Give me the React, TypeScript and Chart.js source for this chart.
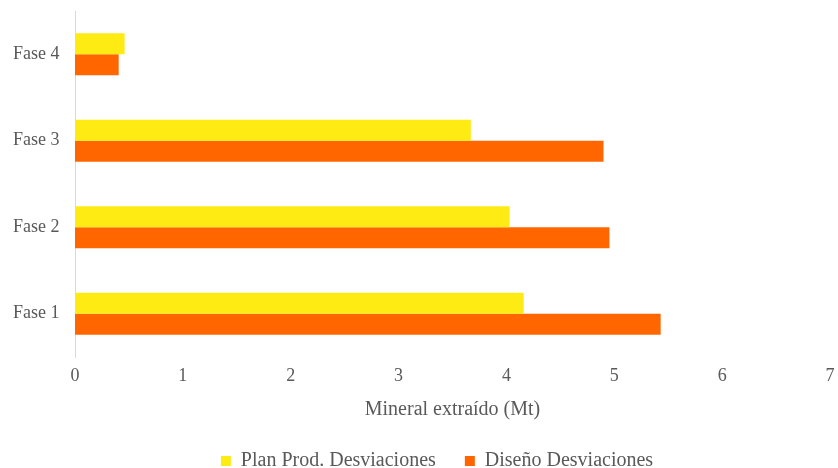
import React, { useEffect, useRef } from "react";
import { Chart, registerables } from "chart.js";

Chart.register(...registerables);

const categories = ["Fase 4", "Fase 3", "Fase 2", "Fase 1"];
const planProdValues = [0.46, 3.67, 4.03, 4.16];
const disenoValues = [0.405, 4.9, 4.955, 5.43];
const xTickValues = [0, 1, 2, 3, 4, 5, 6, 7];
const seriesNames = ["Plan Prod. Desviaciones", "Diseño Desviaciones"];
const xTitle = "Mineral extraído (Mt)";

const FONT = "'Liberation Serif', 'Times New Roman', serif";
const TEXT = "#595959";

export default function App() {
  const ref = useRef<HTMLCanvasElement | null>(null);

  useEffect(() => {
    if (!ref.current) return;
    const chart = new Chart(ref.current, {
      type: "bar",
      data: {
        labels: categories,
        datasets: [
          {
            label: seriesNames[0],
            data: planProdValues,
            backgroundColor: "#FFEB14",
            borderWidth: 0,
            categoryPercentage: 0.486,
            barPercentage: 1,
          },
          {
            label: seriesNames[1],
            data: disenoValues,
            backgroundColor: "#FF6600",
            borderWidth: 0,
            categoryPercentage: 0.486,
            barPercentage: 1,
          },
        ],
      },
      options: {
        indexAxis: "y",
        responsive: false,
        animation: false,
        layout: { padding: { top: 11, left: 44, right: 8, bottom: -13 } },
        scales: {
          x: {
            min: 0,
            max: 7,
            afterBuildTicks: (scale: any) => {
              scale.ticks = xTickValues.map((v) => ({ value: v }));
            },
            grid: { display: false, drawTicks: false },
            border: { display: false },
            ticks: {
              color: TEXT,
              font: { family: FONT, size: 18 },
              padding: 8,
            },
            title: {
              display: true,
              text: xTitle,
              color: TEXT,
              font: { family: FONT, size: 20 },
              padding: { top: 0, bottom: 0 },
            },
            afterFit: (scale: any) => {
              scale.height = 65;
              scale.paddingLeft = 0;
              scale.paddingRight = 0;
            },
          },
          y: {
            grid: { display: false, drawTicks: false },
            border: { display: true, color: "#D9D9D9", width: 1 },
            ticks: {
              color: TEXT,
              font: { family: FONT, size: 18 },
              mirror: true,
              crossAlign: "near",
              padding: -62,
            },
            afterFit: (scale: any) => {
              scale.width = 31;
              scale.paddingTop = 0;
              scale.paddingBottom = 0;
            },
          },
        },
        plugins: {
          legend: {
            position: "bottom",
            labels: {
              color: TEXT,
              font: { family: FONT, size: 20 },
              boxWidth: 10,
              boxHeight: 10,
              padding: 29,
            },
          },
          tooltip: { enabled: false },
        },
      },
    });
    return () => chart.destroy();
  }, []);

  return (
    <div style={{ position: "absolute", left: 0, top: 0, width: 838, height: 468, background: "#fff" }}>
      <canvas ref={ref} width={838} height={468} />
    </div>
  );
}
